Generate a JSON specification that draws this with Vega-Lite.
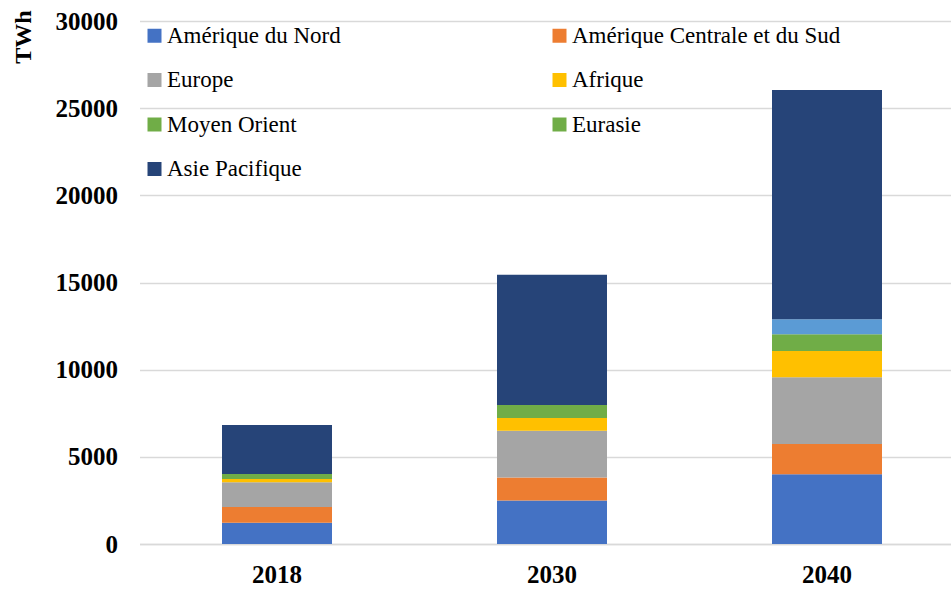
{
  "$schema": "https://vega.github.io/schema/vega-lite/v6.json",
  "width": 825,
  "height": 523,
  "autosize": "none",
  "padding": {"left": 139.5, "top": 21, "right": 0, "bottom": 46},
  "background": "white",
  "config": {"view": {"stroke": null}, "font": "Liberation Serif", "legend": {"labelFont": "Liberation Serif"}, "axis": {"labelFont": "Liberation Serif", "titleFont": "Liberation Serif"}},
  "data": {"values": [
    {"annee": "2018", "region": "Amérique du Nord", "ordre": 1, "twh": 1220},
    {"annee": "2018", "region": "Amérique Centrale et du Sud", "ordre": 2, "twh": 900},
    {"annee": "2018", "region": "Europe", "ordre": 3, "twh": 1415},
    {"annee": "2018", "region": "Afrique", "ordre": 4, "twh": 190},
    {"annee": "2018", "region": "Moyen Orient", "ordre": 5, "twh": 287},
    {"annee": "2018", "region": "Eurasie", "ordre": 6, "twh": 0},
    {"annee": "2018", "region": "Asie Pacifique", "ordre": 7, "twh": 2810},
    {"annee": "2030", "region": "Amérique du Nord", "ordre": 1, "twh": 2490},
    {"annee": "2030", "region": "Amérique Centrale et du Sud", "ordre": 2, "twh": 1320},
    {"annee": "2030", "region": "Europe", "ordre": 3, "twh": 2690},
    {"annee": "2030", "region": "Afrique", "ordre": 4, "twh": 730},
    {"annee": "2030", "region": "Moyen Orient", "ordre": 5, "twh": 750},
    {"annee": "2030", "region": "Eurasie", "ordre": 6, "twh": 0},
    {"annee": "2030", "region": "Asie Pacifique", "ordre": 7, "twh": 7460},
    {"annee": "2040", "region": "Amérique du Nord", "ordre": 1, "twh": 4000},
    {"annee": "2040", "region": "Amérique Centrale et du Sud", "ordre": 2, "twh": 1740},
    {"annee": "2040", "region": "Europe", "ordre": 3, "twh": 3820},
    {"annee": "2040", "region": "Afrique", "ordre": 4, "twh": 1510},
    {"annee": "2040", "region": "Moyen Orient", "ordre": 5, "twh": 960},
    {"annee": "2040", "region": "Eurasie", "ordre": 6, "twh": 860},
    {"annee": "2040", "region": "Asie Pacifique", "ordre": 7, "twh": 13150}
  ]},
  "mark": {"type": "bar"},
  "encoding": {
    "x": {
      "field": "annee", "type": "nominal", "title": null,
      "scale": {"paddingInner": 0.6, "paddingOuter": 0.3},
      "axis": {"labelAngle": 0, "labelFont": "Liberation Serif", "labelFontWeight": "bold", "labelFontSize": 25, "labelColor": "#000000", "labelPadding": 18, "ticks": false, "domainColor": "#D9D9D9", "domainWidth": 1.5}
    },
    "y": {
      "field": "twh", "type": "quantitative", "stack": "zero",
      "scale": {"domain": [0, 30000], "nice": false},
      "title": "TWh",
      "axis": {"values": [0, 5000, 10000, 15000, 20000, 25000, 30000], "format": "d", "labelFont": "Liberation Serif", "labelFontWeight": "bold", "labelFontSize": 25, "labelColor": "#000000", "labelPadding": 22, "ticks": false, "domain": false, "gridColor": "#D9D9D9", "gridWidth": 1.5,
        "titleFont": "Liberation Serif", "titleFontWeight": "bold", "titleFontSize": 24, "titleColor": "#000000", "titleAngle": 270, "titleAlign": "right", "titleBaseline": "middle", "titleX": -116, "titleY": -11}
    },
    "order": {"field": "ordre", "type": "quantitative", "sort": "ascending"},
    "color": {
      "condition": {"test": "datum.annee == '2040' && datum.region == 'Eurasie'", "value": "#5B9BD5"},
      "field": "region", "type": "nominal",
      "scale": {
        "domain": ["Amérique du Nord", "Amérique Centrale et du Sud", "Europe", "Afrique", "Moyen Orient", "Eurasie", "Asie Pacifique"],
        "range": ["#4472C4", "#ED7D31", "#A5A5A5", "#FFC000", "#70AD47", "#70AD47", "#264478"]
      },
      "legend": {
        "title": null, "orient": "none", "legendX": 3.5, "legendY": 3, "columns": 2, "direction": "horizontal",
        "symbolType": "square", "symbolSize": 196, "symbolStrokeWidth": 0, "symbolOffset": 0,
        "labelFont": "Liberation Serif", "labelFontSize": 23, "labelColor": "#000000", "labelOffset": 1, "labelLimit": 400,
        "rowPadding": 20.5, "columnPadding": 112, "gridAlign": "all"
      }
    }
  }
}
